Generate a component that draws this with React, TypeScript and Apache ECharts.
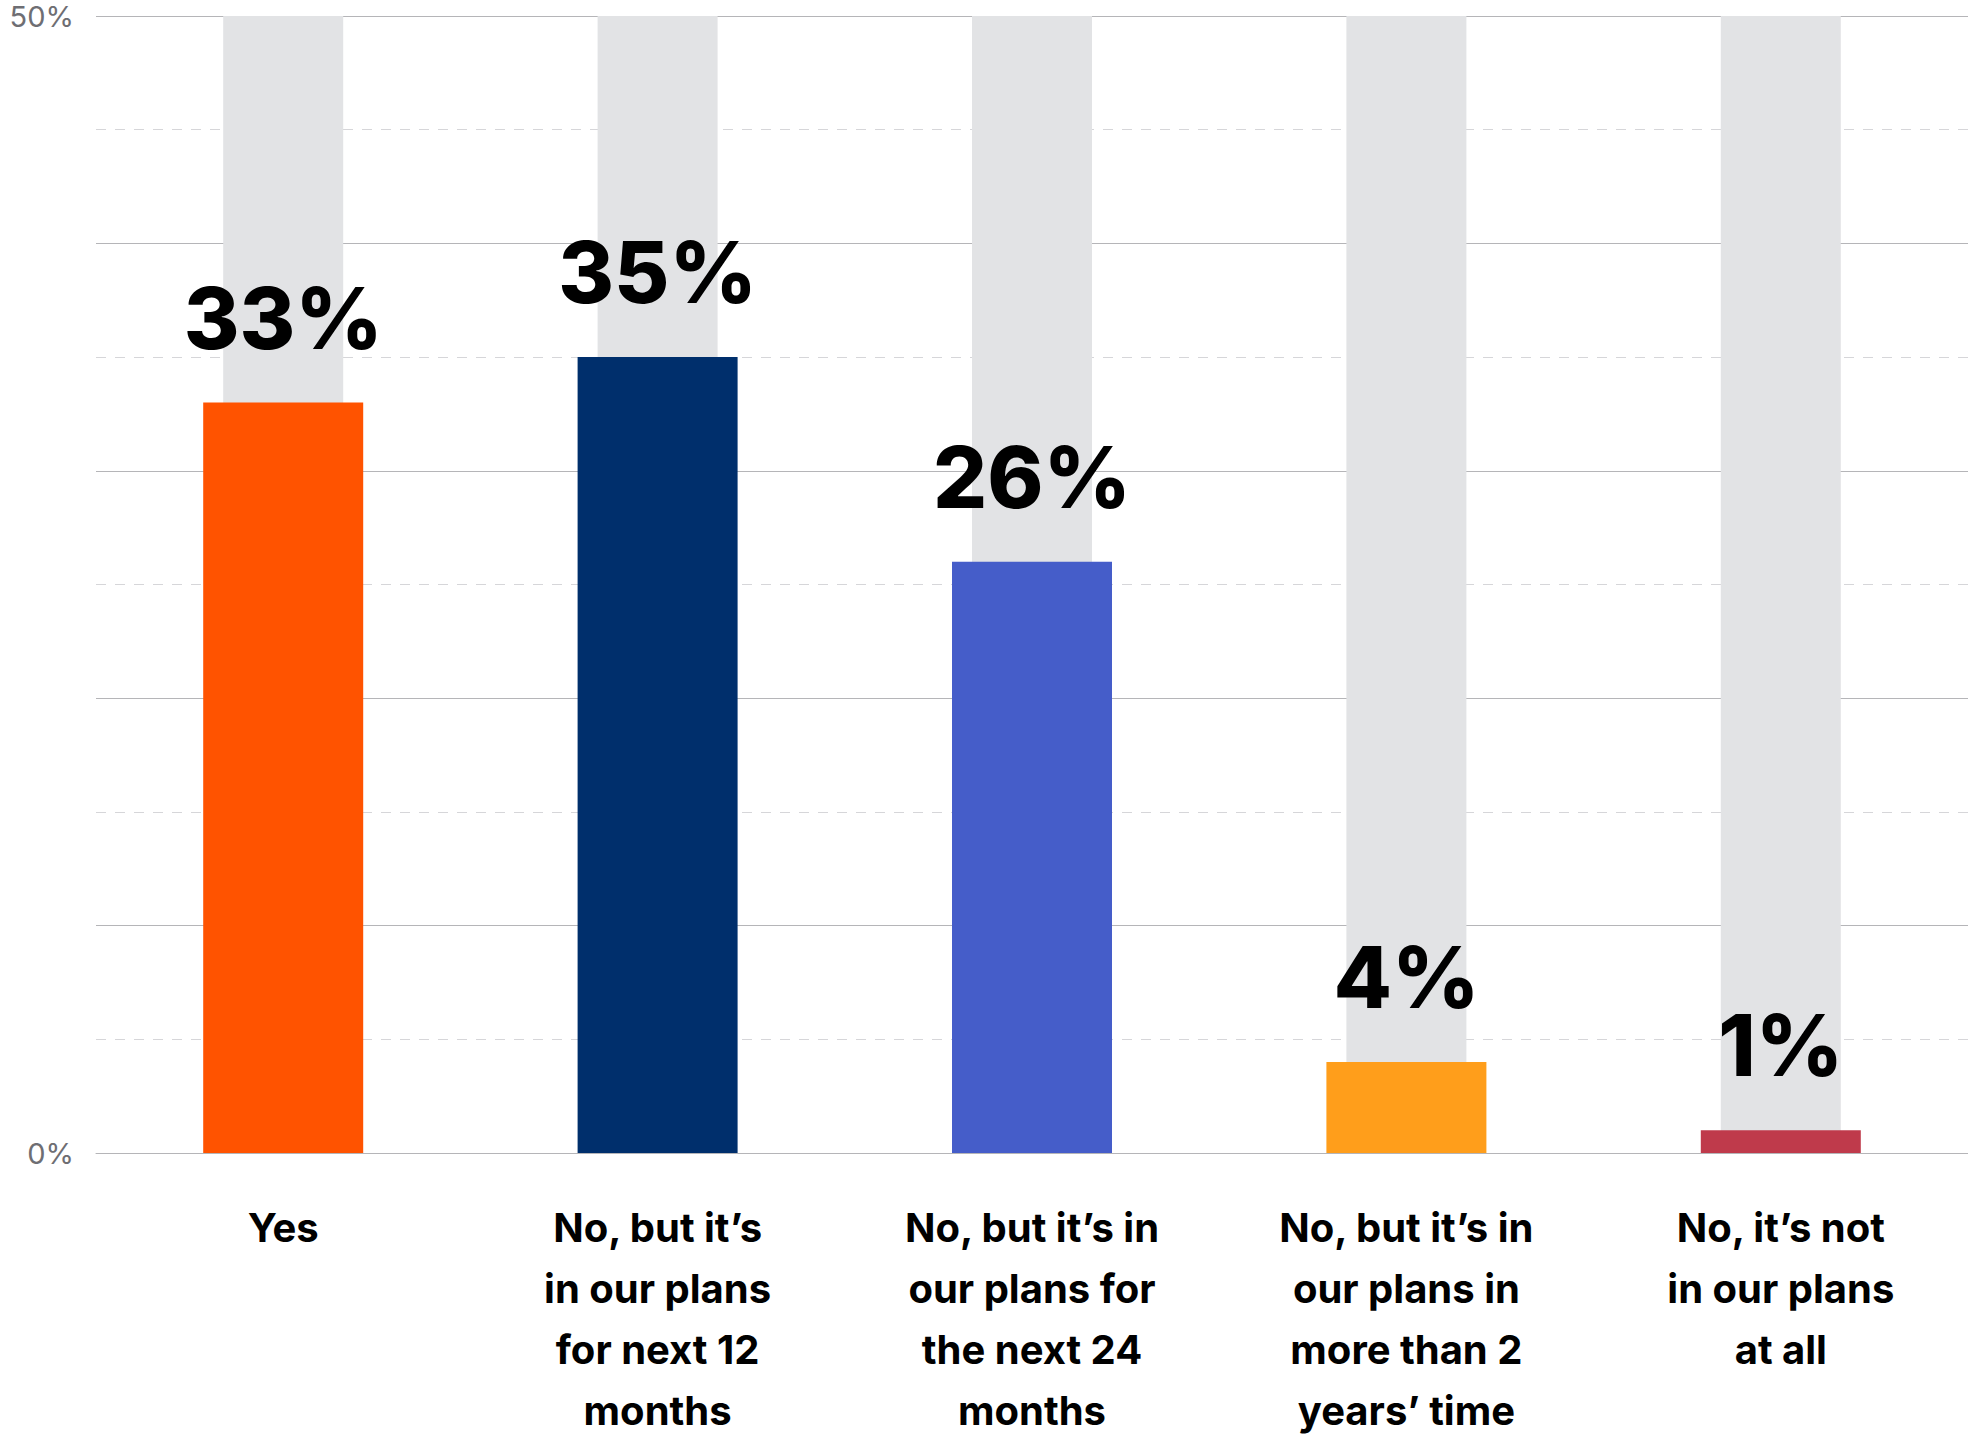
import React, { useEffect, useRef } from "react";
import * as echarts from "echarts";

const categories = [
  "Yes",
  "No, but it’s\nin our plans\nfor next 12\nmonths",
  "No, but it’s in\nour plans for\nthe next 24\nmonths",
  "No, but it’s in\nour plans in\nmore than 2\nyears’ time",
  "No, it’s not\nin our plans\nat all",
];
const values = [33, 35, 26, 4, 1];
const backgroundValues = [50, 50, 50, 50, 50];
const barColors = ["#FF5300", "#002F6C", "#455DC9", "#FF9E1B", "#BF3A4B"];
const axisMin = 0;
const axisMax = 50;
const yTickLabels = ["0%", "50%"];

export default function App() {
  const ref = useRef<HTMLDivElement>(null);
  useEffect(() => {
    document.body.style.margin = "0";
    if (!ref.current) return;
    const chart = echarts.init(ref.current, null, { renderer: "svg" });
    chart.setOption({
      animation: false,
      backgroundColor: "#ffffff",
      grid: { left: 96, top: 16, width: 1874, height: 1138, containLabel: false },
      xAxis: [
        {
          type: "category",
          data: categories,
          axisLine: { show: true, lineStyle: { color: "#B5B5B8", width: 1 } },
          axisTick: { show: false },
          axisLabel: {
            interval: 0,
            margin: 44,
            fontFamily: "Inter",
            fontWeight: 700,
            fontSize: 40,
            lineHeight: 61,
            color: "#000000",
          },
        },
        {
          type: "category",
          data: categories,
          show: false,
        },
      ],
      yAxis: [
        {
          type: "value",
          min: axisMin,
          max: axisMax,
          interval: 10,
          z: 1,
          axisLine: { show: false },
          axisTick: { show: false },
          splitLine: { show: true, lineStyle: { color: "#B5B5B8", width: 1 } },
          axisLabel: {
            margin: 22,
            fontFamily: "Inter",
            fontSize: 29,
            color: "#6E6E73",
            formatter: (v: number) =>
              v === axisMin ? yTickLabels[0] : v === axisMax ? yTickLabels[1] : "",
          },
        },
        {
          type: "value",
          min: axisMin,
          max: axisMax,
          interval: 5,
          z: 0,
          axisLine: { show: false },
          axisTick: { show: false },
          axisLabel: { show: false },
          splitLine: {
            show: true,
            lineStyle: { color: "#D6D6D9", width: 1, type: [10, 9] },
          },
        },
      ],
      series: [
        {
          type: "bar",
          xAxisIndex: 1,
          yAxisIndex: 0,
          data: backgroundValues,
          barWidth: 120,
          itemStyle: { color: "#E2E3E5" },
          silent: true,
          z: 2,
        },
        {
          type: "bar",
          xAxisIndex: 0,
          yAxisIndex: 0,
          data: values.map((v, i) => ({ value: v, itemStyle: { color: barColors[i] } })),
          barWidth: 160,
          z: 3,
          label: {
            show: true,
            position: "top",
            distance: 42,
            formatter: "{c}%",
            fontFamily: "Inter",
            fontWeight: 800,
            fontSize: 85,
            color: "#000000",
          },
        },
      ],
    });
    return () => chart.dispose();
  }, []);
  return <div ref={ref} style={{ width: 1968, height: 1441 }} />;
}
